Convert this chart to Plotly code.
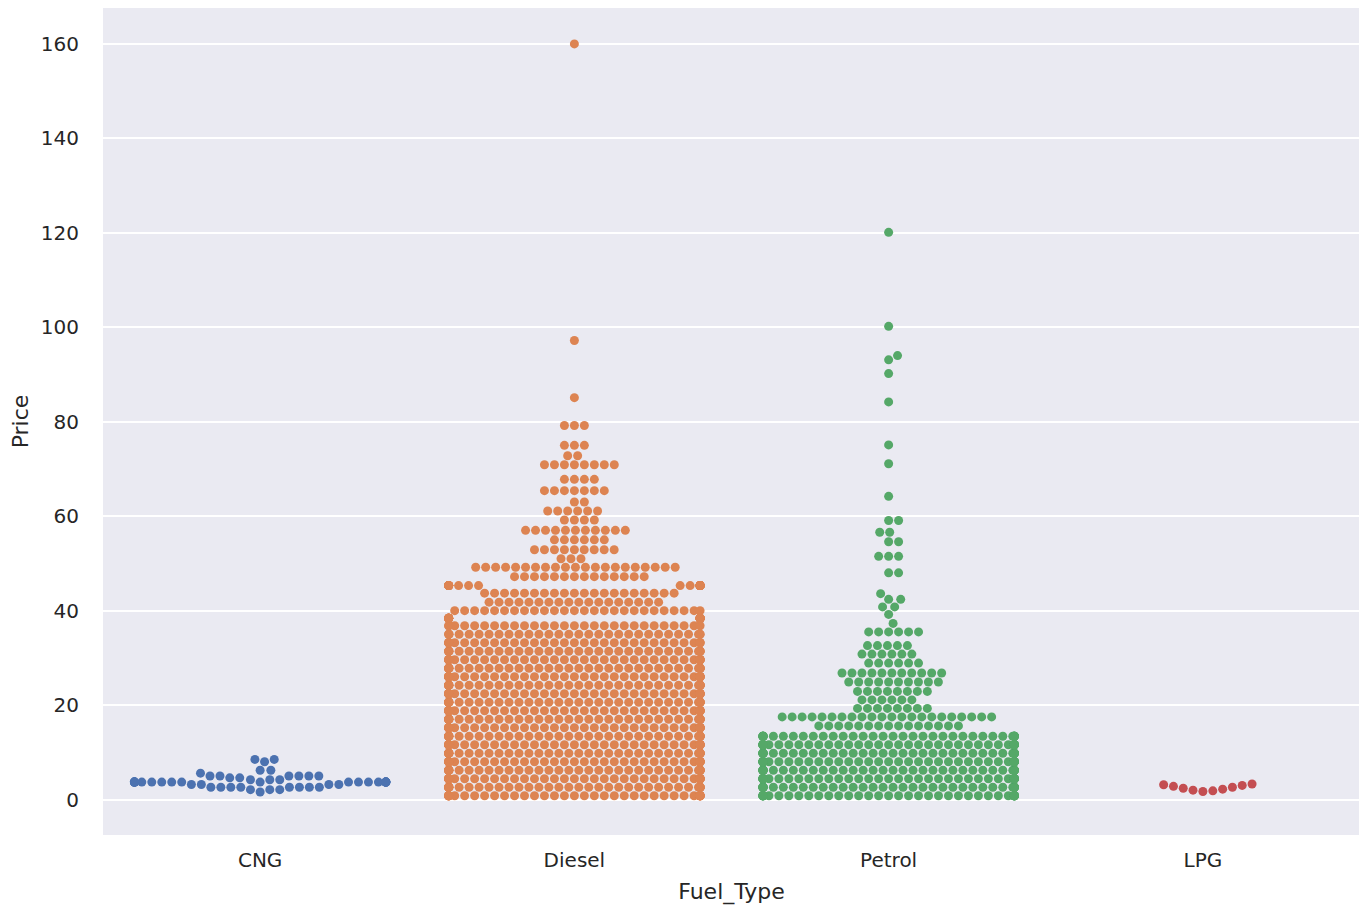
import numpy as np
import plotly.graph_objects as go

# ---------------- data ----------------
categories = ["CNG", "Diesel", "Petrol", "LPG"]
colors = ["#4C72B0", "#DD8452", "#55A868", "#C44E52"]

# price levels and number of cars observed at each level
cng_price = [1.6, 2.1, 2.6, 3.2, 3.7, 4.2, 4.6, 5.0, 5.6, 6.2, 8.0, 8.5]
cng_count = [1, 3, 8, 4, 24, 3, 2, 6, 1, 2, 1, 2]

diesel_price = [0.8, 2.6, 4.4, 6.2, 8.0, 9.8, 11.6, 13.4, 15.2, 17.0, 18.8, 20.6,
                22.4, 24.2, 26.0, 27.8, 29.6, 31.4, 33.2, 35.0, 36.8, 38.4, 40.0,
                41.8, 43.7, 45.3, 47.2, 49.2, 51.0, 52.9, 55.0, 57.0, 59.2, 61.1,
                63.0, 65.4, 67.8, 70.9, 72.8, 75.0, 79.2, 85.1, 97.2, 160.0]
diesel_count = [40, 40, 40, 40, 40, 40, 40, 40, 40, 40, 40, 40,
                40, 40, 40, 38, 36, 34, 32, 30, 28, 22, 26,
                18, 20, 34, 14, 21, 3, 9, 6, 11, 4, 6,
                2, 7, 4, 8, 2, 3, 3, 1, 1, 1]

petrol_price = [0.8, 2.6, 4.4, 6.2, 8.0, 9.8, 11.6, 13.4, 15.6, 17.5, 19.3, 21.1,
                22.9, 24.9, 26.8, 28.9, 30.8, 32.6, 35.5, 37.3, 39.2, 40.8, 42.4,
                43.6, 48.0, 51.5, 54.6, 56.6, 59.1, 64.2, 71.1, 75.1, 84.2, 90.2,
                93.1, 94.0, 100.2, 120.1]
petrol_count = [40, 40, 40, 40, 40, 40, 40, 38, 15, 22, 8, 6,
                8, 10, 11, 6, 6, 5, 6, 1, 1, 2, 2,
                1, 2, 3, 2, 2, 2, 1, 1, 1, 1, 1,
                1, 1, 1, 1]

lpg_price = [1.7, 1.85, 2.0, 2.2, 2.4, 2.6, 2.8, 3.0, 3.15, 3.3]
lpg_count = [1, 1, 1, 1, 1, 1, 1, 1, 1, 1]

yticks = [0, 20, 40, 60, 80, 100, 120, 140, 160]

# ---------------- layout geometry ----------------
# the page body adds an 8px offset, so the figure is 8px smaller than the window
W, H = 1359, 897
M_L, M_R, M_T, M_B = 95, 7, 0, 70
X_RANGE = [-0.5, 3.5]
Y_RANGE = [-7.5, 167.6]
PX_X = (W - M_L - M_R) / (X_RANGE[1] - X_RANGE[0])
PX_Y = (H - M_T - M_B) / (Y_RANGE[1] - Y_RANGE[0])
DOT = 9.5           # swarm spacing (px)
HALF_WIDTH = 0.4    # category half width


def swarm_offsets(prices, counts):
    vals = np.repeat(np.asarray(prices, float), np.asarray(counts, int))
    vals = np.sort(vals, kind="stable")
    ys = vals * PX_Y
    n = len(ys)
    px = np.zeros(n)
    start = 0
    for i in range(n):
        y = ys[i]
        while start < i and ys[start] <= y - DOT:
            start += 1
        if start == i:
            px[i] = 0.0
            continue
        nbx = px[start:i]
        dy = y - ys[start:i]
        dx = np.sqrt(np.maximum(DOT * DOT - dy * dy, 0.0)) * 1.05
        cands = np.concatenate([[0.0], nbx + dx, nbx - dx])
        cands = cands[np.argsort(np.abs(cands), kind="stable")]
        d2 = (cands[:, None] - nbx[None, :]) ** 2 + (dy ** 2)[None, :]
        ok = np.all(d2 >= DOT * DOT * 0.999, axis=1)
        px[i] = cands[np.argmax(ok)] if ok.any() else cands[-1]
    off = np.clip(px / PX_X, -HALF_WIDTH, HALF_WIDTH)
    return off, vals


fig = go.Figure()
data = [(cng_price, cng_count), (diesel_price, diesel_count),
        (petrol_price, petrol_count), (lpg_price, lpg_count)]
for k, (name, (pr, ct)) in enumerate(zip(categories, data)):
    off, vals = swarm_offsets(pr, ct)
    fig.add_trace(go.Scatter(
        x=k + off, y=vals, mode="markers", name=name,
        marker=dict(size=9.0, color=colors[k], line=dict(width=0)),
        showlegend=False, hoverinfo="y"))

fig.update_layout(
    width=W, height=H, autosize=False,
    margin=dict(l=M_L, r=M_R, t=M_T, b=M_B),
    paper_bgcolor="white", plot_bgcolor="#EAEAF2",
    font=dict(family="DejaVu Sans", color="#262626", size=20),
)
fig.update_xaxes(
    range=X_RANGE, tickvals=list(range(len(categories))), ticktext=categories,
    showgrid=False, zeroline=False, showline=False, ticks="",
    tickfont=dict(size=20, color="#262626"), ticklabelstandoff=11,
    title=dict(text="Fuel_Type", font=dict(size=22, color="#262626"), standoff=12),
)
fig.update_yaxes(
    range=Y_RANGE, tickvals=yticks, showgrid=True, gridcolor="white", gridwidth=1.6,
    zeroline=False, showline=False, ticks="",
    tickfont=dict(size=20, color="#262626"), ticklabelstandoff=23,
    title=dict(text="Price", font=dict(size=22, color="#262626"), standoff=12),
)

fig.write_html("out.html")
